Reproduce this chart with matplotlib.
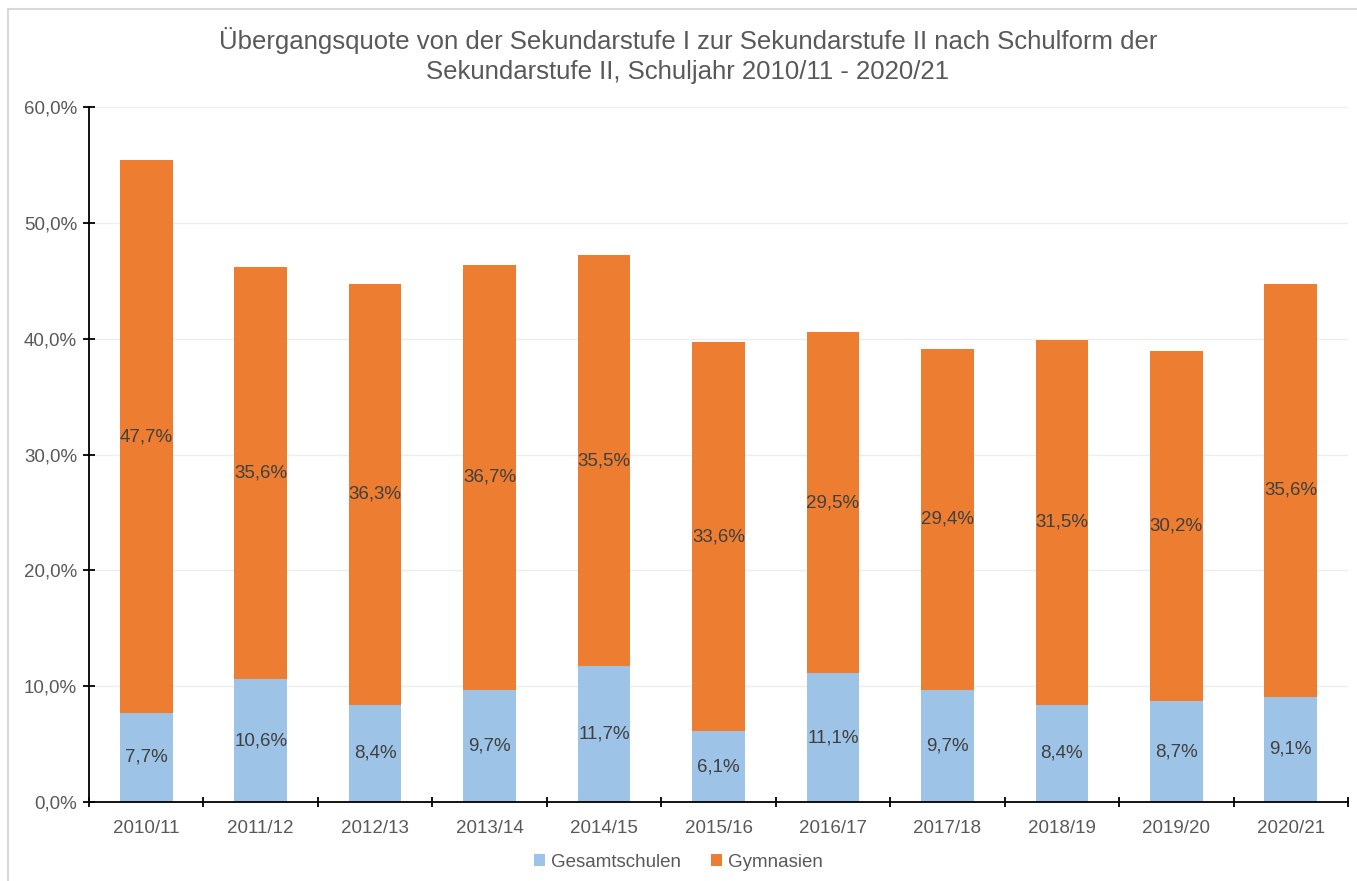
import matplotlib.pyplot as plt
import numpy as np

years = ['2010/11', '2011/12', '2012/13', '2013/14', '2014/15', '2015/16',
         '2016/17', '2017/18', '2018/19', '2019/20', '2020/21']
gesamtschulen = [7.7, 10.6, 8.4, 9.7, 11.7, 6.1, 11.1, 9.7, 8.4, 8.7, 9.1]
gymnasien = [47.7, 35.6, 36.3, 36.7, 35.5, 33.6, 29.5, 29.4, 31.5, 30.2, 35.6]

blue = '#9DC3E6'
orange = '#ED7D31'
txt = '#404040'
grey = '#595959'


def fmt(v):
    return f'{v:.1f}%'.replace('.', ',')


plt.rcParams['font.family'] = ['Liberation Sans', 'DejaVu Sans']

fig = plt.figure(figsize=(13.57, 8.81), dpi=100)
ax = fig.add_axes([0.0656, 0.0897, 0.9278, 0.7888])

x = np.arange(len(years))
ax.yaxis.grid(True, color='#EDEDED', linewidth=1)
ax.set_axisbelow(True)
b1 = ax.bar(x, gesamtschulen, width=0.46, color=blue, label='Gesamtschulen')
b2 = ax.bar(x, gymnasien, width=0.46, bottom=gesamtschulen, color=orange, label='Gymnasien')

for i in range(len(years)):
    ax.text(x[i], gesamtschulen[i] / 2, fmt(gesamtschulen[i]), ha='center', va='center',
            fontsize=13.5, color=txt)
    ax.text(x[i], gesamtschulen[i] + gymnasien[i] / 2, fmt(gymnasien[i]), ha='center',
            va='center', fontsize=13.5, color=txt)

ax.set_xlim(-0.5, len(years) - 0.5)
ax.set_ylim(0, 60)
ax.set_yticks(range(0, 61, 10))
ax.set_yticklabels([fmt(v) for v in range(0, 61, 10)])
ax.set_xticks(x)
ax.set_xticklabels(years)
ax.set_xticks(np.arange(-0.5, len(years)), minor=True)
ax.tick_params(axis='x', which='major', length=0, pad=13, labelsize=13.5, labelcolor=grey)
ax.tick_params(axis='x', which='minor', direction='inout', length=7, width=1.3)
ax.tick_params(axis='y', direction='inout', length=9, width=1.3, labelsize=13.5,
               labelcolor=grey, pad=4)

for s in ['top', 'right']:
    ax.spines[s].set_visible(False)
for s in ['left', 'bottom']:
    ax.spines[s].set_color('black')
    ax.spines[s].set_linewidth(1.3)

fig.text(0.507, 0.937, 'Übergangsquote von der Sekundarstufe I zur Sekundarstufe II nach Schulform der\n'
         'Sekundarstufe II, Schuljahr 2010/11 - 2020/21',
         ha='center', va='center', fontsize=18.5, color=grey, linespacing=1.35)

fig.legend(handles=[b1, b2], loc='center', bbox_to_anchor=(0.5, 0.021), ncol=2,
           frameon=False, fontsize=13.5, handlelength=0.6, handleheight=0.6,
           columnspacing=1.6, handletextpad=0.3, labelcolor=grey)

fig.patches.append(plt.Rectangle((0.0059, -0.05), 1.2, 0.9898 + 0.05, transform=fig.transFigure,
                                 fill=False, edgecolor='#D9D9D9', linewidth=1.5))

fig.savefig('out.png', dpi=100)
